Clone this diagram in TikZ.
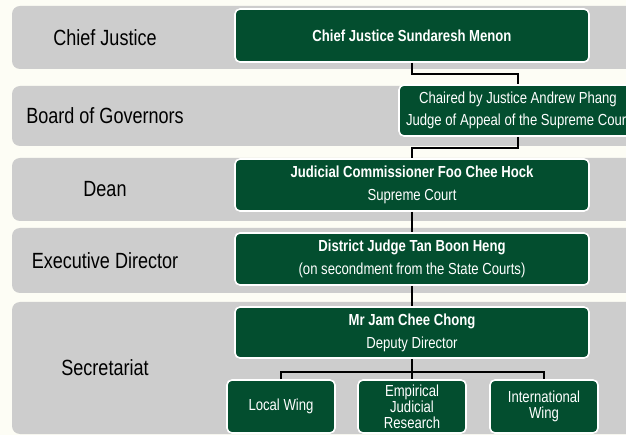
\documentclass[tikz,border=0pt]{standalone}
\usepackage{fontspec}
\setmainfont{Liberation Sans}[FakeStretch=0.82]
\usetikzlibrary{calc,positioning}
\definecolor{cream}{HTML}{FDFDF5}
\definecolor{bandgray}{HTML}{CDCDCD}
\definecolor{boxgreen}{HTML}{034E2F}
\tikzset{
  line/.style={line width=2.4pt, black},
  band/.style={fill=bandgray, rounded corners=8pt},
  tier/.style={font=\fontsize{22}{26}\selectfont},
  box/.style={draw=white, fill=boxgreen, text=white, line width=1.6pt, rounded corners=5pt, align=center, inner sep=2pt, font=\fontsize{16}{23}\selectfont},
  widebox/.style={box, minimum width=354pt, minimum height=52pt},
  % wings under the secretariat
  wingbox/.style={box, minimum width=108pt, minimum height=53pt, font=\fontsize{16}{16}\selectfont}
}
\begin{document}
\begin{tikzpicture}[x=1pt, y=-1pt]
  \fill[cream] (0,0) rectangle (626,435);
  \useasboundingbox (0,0) rectangle (626,435);
  % bands
  \fill[band] (12,6) rectangle (650,69);
  \fill[band] (12,86) rectangle (650,146);
  \fill[band] (12,158) rectangle (650,221);
  \fill[band] (12,228) rectangle (650,293);
  \fill[band] (12,302) rectangle (650,434);
  \node[tier] (tcj) at (105,37.5) {Chief Justice};
  \node[tier] (tbog) at (105,116) {Board of Governors};
  \node[tier] (tdean) at (105,189.5) {Dean};
  \node[tier] (texec) at (105,260.5) {Executive Director};
  \node[tier] (tsec) at (105,368) {Secretariat};
  % boxes
  \node[widebox, minimum height=53pt] (cj) at (412,35.5) {\bfseries Chief Justice Sundaresh Menon};
  \node[box, minimum width=238pt, minimum height=51pt, font=\fontsize{16}{22}\selectfont] (bog) at (518,110.5) {Chaired by Justice Andrew Phang\\Judge of Appeal of the Supreme Court};
  \node[widebox] (dean) at (412,185) {\bfseries Judicial Commissioner Foo Chee Hock\\Supreme Court};
  \node[widebox] (exec) at (412,259) {\bfseries District Judge Tan Boon Heng\\(on secondment from the State Courts)};
  \node[widebox, minimum height=51pt] (sec) at (412,332.5) {\bfseries Mr Jam Chee Chong\\Deputy Director};
  \node[wingbox] (ejr) at (412,406.5) {Empirical\\Judicial\\Research};
  \node[wingbox] (local) at (281,406.5) {Local Wing};
  \node[wingbox] (intl) at (544,406.5) {International\\Wing};
  \coordinate (fork) at (412,372);
  % connectors
  \draw[line] (cj.south) -- ++(0,11) -| (bog.north);
  \draw[line] (bog.south) -- ++(0,11) -| (dean.north);
  \draw[line] (dean.south) -- (exec.north);
  \draw[line] (exec.south) -- (sec.north);
  \draw[line] (sec.south) -- (ejr.north);
  \draw[line] (local.north) |- (fork) -| (intl.north);
\end{tikzpicture}
\end{document}
